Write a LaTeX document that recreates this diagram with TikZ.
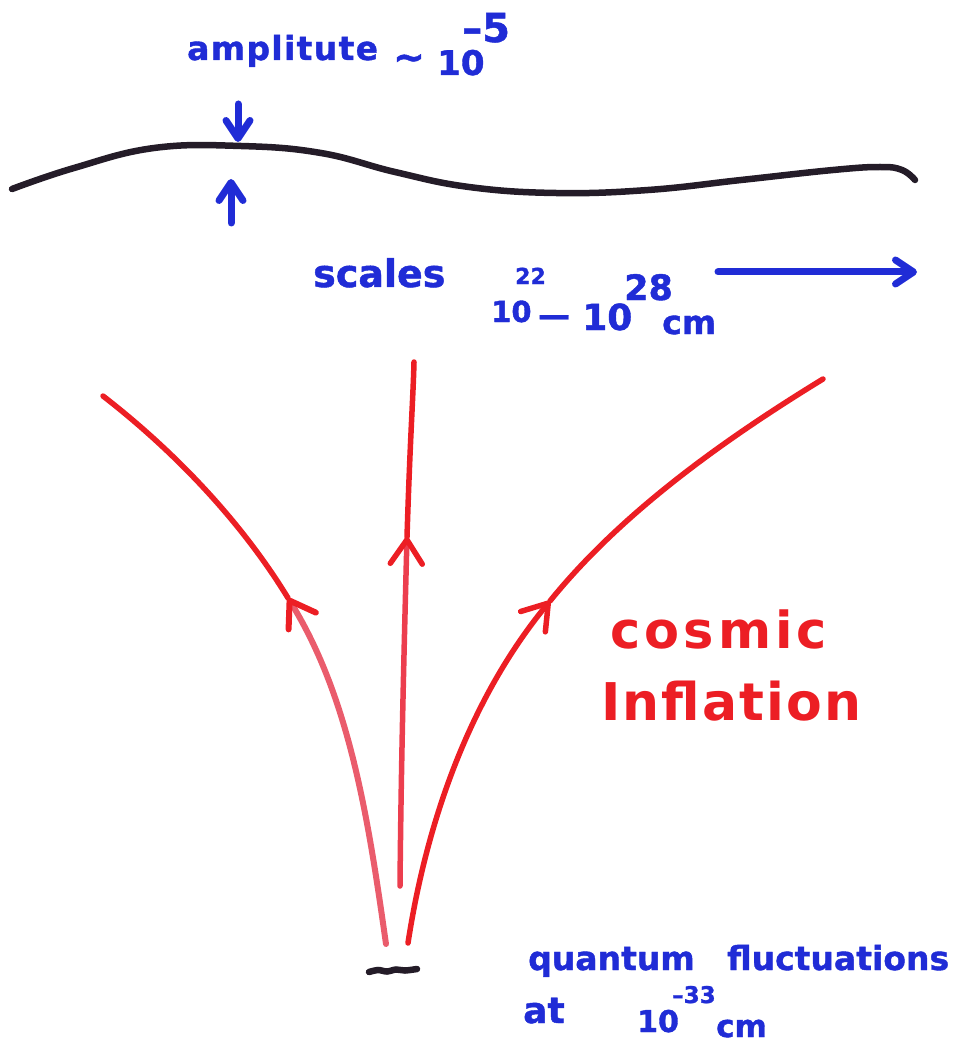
\documentclass[tikz,border=0pt]{standalone}
\usepackage{fontspec}
\newfontfamily\hand{DejaVu Sans}[FakeBold=1.2]
\newfontfamily\handr{DejaVu Sans}
\usetikzlibrary{arrows.meta}
\definecolor{inkblue}{RGB}{32,44,214}
\definecolor{inkred}{RGB}{236,30,36}
\definecolor{inkpink}{RGB}{234,92,108}
\definecolor{inkmid}{RGB}{236,62,78}
\definecolor{inkblack}{RGB}{36,28,40}
\tikzset{
  bt/.style={text=inkblue, inner sep=0pt, anchor=base west, font=\hand\bfseries\fontsize{#1}{#1}\selectfont},
  rt/.style={text=inkred, inner sep=0pt, anchor=base west, font=\handr\bfseries\fontsize{#1}{#1}\selectfont},
  redline/.style={draw=inkred, line width=5.5pt, line cap=round},
  pinkline/.style={draw=inkpink, line width=6pt, line cap=round},
  midline/.style={draw=inkmid, line width=5.5pt, line cap=round},
  blueline/.style={draw=inkblue, line width=7pt, line cap=round},
  waveline/.style={draw=inkblack, line width=6.5pt, line cap=round},
  redhead/.style={-{Straight Barb[length=24pt,width=32pt,color=inkred,round]}},
  bluehead/.style={-{Straight Barb[length=18pt,width=24pt,round]}},
}
\begin{document}
\begin{tikzpicture}[x=1pt,y=-1pt]
\useasboundingbox (0,0) rectangle (958,1048);

% top wave
\draw[waveline] plot[smooth, tension=0.7] coordinates {(12,189) (74,168) (154,148) (241,146) (321,153) (395,172) (469,187) (556,193) (648,190) (741,180) (833,170) (880,167) (902,170) (915,180)};

% amplitude arrows
\coordinate (d1) at (238,104);
\coordinate (d2) at (238,142);
\draw[blueline, bluehead] (d1) -- (d2);
\coordinate (u1) at (231,223);
\coordinate (u2) at (231,179);
\draw[blueline, bluehead] (u1) -- (u2);

% top labels
\node[bt=33] (amp) at (187,60) {\addfontfeature{LetterSpace=4}amplitute};
\node[bt=38, anchor=base] (tilde) at (409,70) {\textasciitilde};
\node[bt=34] (ten1) at (437,75) {10};
\node[bt=40] (exp1) at (462,42) {–5};

% scales
\node[bt=38] (scales) at (313,287) {scales};
\node[bt=29] (ten2) at (491,322) {10};
\node[bt=22] (e22) at (515,284) {22};
\node[bt=32] (dash) at (538,326) {—};
\node[bt=36] (ten3) at (582,330) {10};
\node[bt=35] (e28) at (624,300) {28};
\node[bt=33] (cm1) at (662,334) {cm};
\coordinate (sa) at (718,272);
\coordinate (sb) at (917,272);
\draw[blueline, bluehead] (sa) -- (sb);

% red curves
\coordinate (Lb) at (386,944);
\coordinate (La) at (288,598);
\coordinate (Lt) at (103,396);
\draw[pinkline, redhead] (Lb) .. controls (369,825) and (351,700) .. (La);
\draw[redline] (La) .. controls (241,521) and (174,451) .. (Lt);

\coordinate (Mb) at (400,886);
\coordinate (Ma) at (407,537);
\coordinate (Mt) at (414,362);
\draw[midline, redhead] (Mb) .. controls (401,770) and (404,650) .. (Ma);
\draw[redline] (Ma) .. controls (410,440) and (413,400) .. (Mt);

\coordinate (Rb) at (408,943);
\coordinate (Ra) at (550,601);
\coordinate (Rt) at (823,379);
\draw[redline, redhead] (Rb) .. controls (427,819) and (471,697) .. (Ra);
\draw[redline] (Ra) .. controls (622,512) and (725,439) .. (Rt);

% tiny fluctuation
\draw[waveline, line width=6.5pt] plot[smooth] coordinates {(369,972) (378,970) (387,971.5) (396,969.5) (405,970.5) (417,969)};

% red labels
\node[rt=51] (cosmic) at (610,648) {\addfontfeature{LetterSpace=8}cosmic};
\node[rt=52] (infl) at (601,720) {\addfontfeature{LetterSpace=4}Inflation};

% bottom labels
\node[bt=33] (quant) at (528,970) {quantum};
\node[bt=33] (fluct) at (727,970) {fluctuations};
\node[bt=36] (at) at (523,1023) {at};
\node[bt=30] (ten4) at (637,1032) {10};
\node[bt=23] (e33) at (672,1003) {–33};
\node[bt=31] (cm2) at (716,1037) {cm};
\end{tikzpicture}
\end{document}
